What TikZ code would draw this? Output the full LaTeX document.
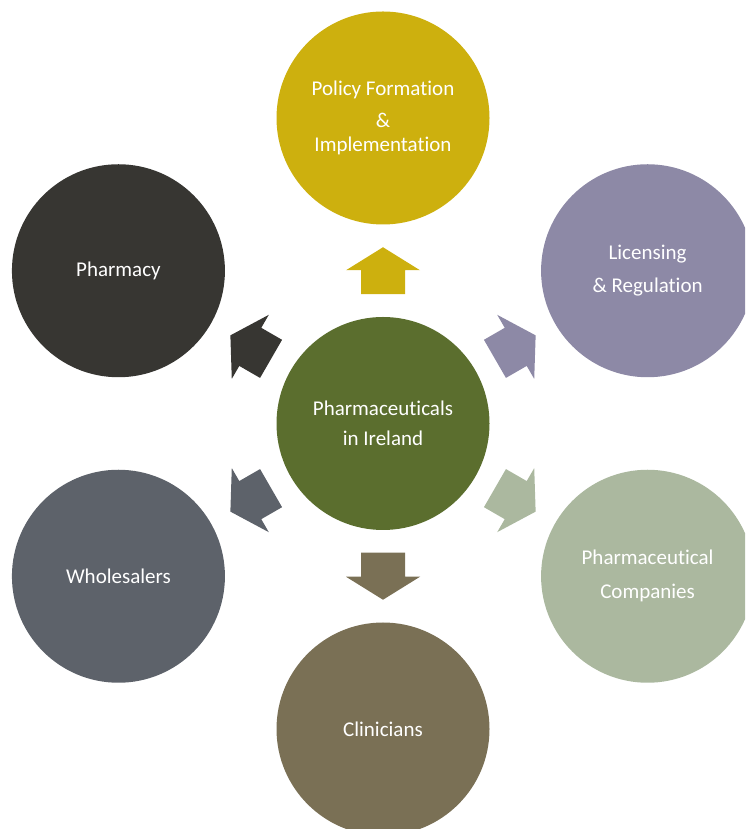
\documentclass[tikz,border=0pt]{standalone}
\usepackage{fontspec}
\setmainfont{Carlito}[Ligatures={CommonOff,ContextualOff}]
\usetikzlibrary{calc}

\definecolor{ocre}{RGB}{205,176,14}
\definecolor{lilas}{RGB}{141,137,166}
\definecolor{sauge}{RGB}{171,184,159}
\definecolor{taupe}{RGB}{122,112,85}
\definecolor{ardoise}{RGB}{93,98,106}
\definecolor{charbon}{RGB}{55,54,50}
\definecolor{vertpin}{RGB}{91,110,46}

\begin{document}
\begin{tikzpicture}[x=1pt,y=1pt,
    bulle/.style={circle,minimum size=213pt,inner sep=0pt,text=white,
      align=center,font=\fontsize{21}{30}\selectfont}]
  \useasboundingbox (0,0) rectangle (745,829);
  \clip (0,0) rectangle (745,829);
  \node[bulle,fill=vertpin] (hub) at (383,405.5) {Pharmaceuticals\\in Ireland};
  \node[bulle,fill=ocre] (policy) at ($(hub)+(90:305.5)$)
    {Policy Formation\\[2pt]\&\\[-6pt]Implementation};
  \node[bulle,fill=lilas] (licence) at ($(hub)+(30:305.5)$) {Licensing\\[3pt]\& Regulation};
  \node[bulle,fill=sauge] (labos) at ($(hub)+(-30:305.5)$) {Pharmaceutical\\[4pt]Companies};
  \node[bulle,fill=taupe] (clin) at ($(hub)+(-90:305.5)$) {Clinicians};
  \node[bulle,fill=ardoise] (grossiste) at ($(hub)+(210:305.5)$) {Wholesalers};
  \node[bulle,fill=charbon] (pharma) at ($(hub)+(150:305.5)$) {Pharmacy};
  % flèches pleines vers l'extérieur
  \foreach \cible/\ang/\col in {policy/90/ocre, licence/30/lilas, labos/-30/sauge,
      clin/-90/taupe, grossiste/210/ardoise, pharma/150/charbon}
    \fill[\col, shift={($(hub)!.5!(\cible)$)}, rotate=\ang]
      (-23.5,-22) -- (0.5,-22) -- (0.5,-37) -- (23.5,0) -- (0.5,37)
      -- (0.5,22) -- (-23.5,22) -- cycle;
\end{tikzpicture}
\end{document}
